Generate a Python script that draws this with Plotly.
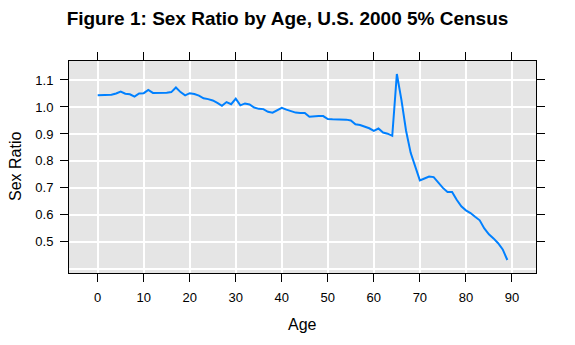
import plotly.graph_objects as go

# Sex ratio (males per female) by single year of age, U.S. 2000 5% census sample
ages = list(range(0, 90))
sex_ratio = [
    1.043, 1.043, 1.043, 1.045, 1.050, 1.057, 1.049, 1.047, 1.038, 1.050,
    1.051, 1.063, 1.052, 1.052, 1.053, 1.053, 1.055, 1.072, 1.055, 1.043,
    1.051, 1.048, 1.042, 1.032, 1.029, 1.024, 1.015, 1.004, 1.018, 1.010,
    1.031, 1.006, 1.013, 1.009, 0.998, 0.993, 0.992, 0.982, 0.979, 0.987,
    0.997, 0.990, 0.985, 0.979, 0.978, 0.978, 0.964, 0.966, 0.966, 0.966,
    0.955, 0.954, 0.954, 0.954, 0.953, 0.950, 0.936, 0.933, 0.926, 0.921,
    0.911, 0.920, 0.905, 0.901, 0.893, 1.122, 1.025, 0.912, 0.830, 0.775,
    0.728, 0.735, 0.742, 0.740, 0.718, 0.700, 0.685, 0.685, 0.656, 0.632,
    0.617, 0.607, 0.593, 0.580, 0.550, 0.528, 0.513, 0.495, 0.472, 0.433,
]

x_ticks = [0, 10, 20, 30, 40, 50, 60, 70, 80, 90]
y_ticks = [0.5, 0.6, 0.7, 0.8, 0.9, 1.0, 1.1]
y_tick_text = ["0.5", "0.6", "0.7", "0.8", "0.9", "1.0", "1.1"]

title_text = "Figure 1: Sex Ratio by Age, U.S. 2000 5% Census"
x_title = "Age"
y_title = "Sex Ratio"

FONT = "Liberation Sans, Arial, sans-serif"

# lattice-style padding of 7% on each side of the data range
def padded(lo, hi, pad=0.07):
    d = (hi - lo) * pad
    return [lo - d, hi + d]

fig = go.Figure(
    go.Scatter(
        x=ages,
        y=sex_ratio,
        mode="lines",
        line=dict(color="#0080FF", width=2),
        hoverinfo="x+y",
    )
)

axis_common = dict(
    showline=True,
    linecolor="black",
    linewidth=1,
    mirror="ticks",
    ticks="outside",
    ticklen=8,
    tickwidth=1,
    tickcolor="black",
    showgrid=True,
    gridcolor="white",
    gridwidth=1.5,
    zeroline=False,
    tickfont=dict(family=FONT, size=13, color="black"),
)

fig.update_xaxes(
    range=padded(min(ages), max(ages)),
    tickmode="array",
    tickvals=x_ticks,
    ticktext=[str(v) for v in x_ticks],
    ticklabelstandoff=4,
    **axis_common,
)
fig.update_yaxes(
    range=padded(min(sex_ratio), max(sex_ratio)),
    tickmode="array",
    tickvals=y_ticks,
    ticktext=y_tick_text,
    ticklabelstandoff=4,
    minor=dict(tickvals=[0.4], showgrid=True, gridcolor="white",
               gridwidth=1.5, ticklen=0),
    **axis_common,
)

fig.update_layout(
    width=575,
    height=345,
    margin=dict(l=69, r=39, t=61, b=72),
    paper_bgcolor="white",
    plot_bgcolor="#E5E5E5",
    showlegend=False,
    font=dict(family=FONT, color="black"),
    title=dict(
        text="<b>" + title_text + "</b>",
        xref="container", yref="container",
        x=0.5, y=1 - 18 / 345, xanchor="center", yanchor="middle",
        font=dict(family=FONT, size=19, color="black"),
    ),
    annotations=[
        dict(text=x_title, xref="paper", yref="paper", x=0.5, y=0,
             yshift=-51, xanchor="center", yanchor="middle", showarrow=False,
             font=dict(family=FONT, size=16, color="black")),
        dict(text=y_title, xref="paper", yref="paper", x=0, y=0.5,
             xshift=-54, xanchor="center", yanchor="middle", textangle=-90,
             showarrow=False, font=dict(family=FONT, size=16, color="black")),
    ],
)

fig.write_html("out.html")
